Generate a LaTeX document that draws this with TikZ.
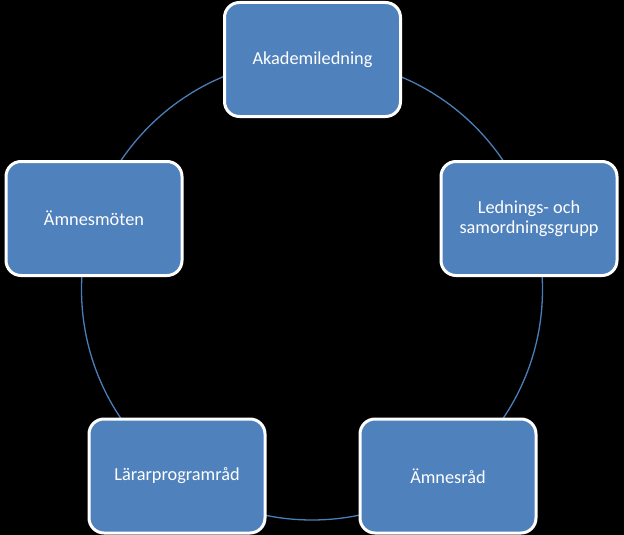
\documentclass[tikz,border=0pt]{standalone}
\usepackage{fontspec}
\setmainfont{Carlito}
\definecolor{boxblue}{HTML}{4F81BD}
\definecolor{ringblue}{HTML}{4A7EBB}
\begin{document}
\begin{tikzpicture}[x=1pt,y=-1pt,
  unit/.style={draw=white, line width=3pt, fill=boxblue, rounded corners=15pt,
    minimum width=176pt, minimum height=114pt, text=white, align=center,
    font=\fontsize{18.3}{20.5}\selectfont, inner sep=0pt}]
\fill[black] (0,0) rectangle (624,535);
\useasboundingbox (0,0) rectangle (624,535);
\coordinate (c) at (312,289.5);
\draw[ringblue, line width=1.3pt] (c) circle (230.5pt);
\node[unit] (a) at (312.5,59.5) {Akademiledning};
\node[unit] (b) at (529,218.5) {Lednings- och\\samordningsgrupp};
\node[unit] (d) at (448,476) {Ämnesråd};
\node[unit] (e) at (177,476) {Lärarprogramråd};
\node[unit] (f) at (94,218.5) {Ämnesmöten};
\end{tikzpicture}
\end{document}
